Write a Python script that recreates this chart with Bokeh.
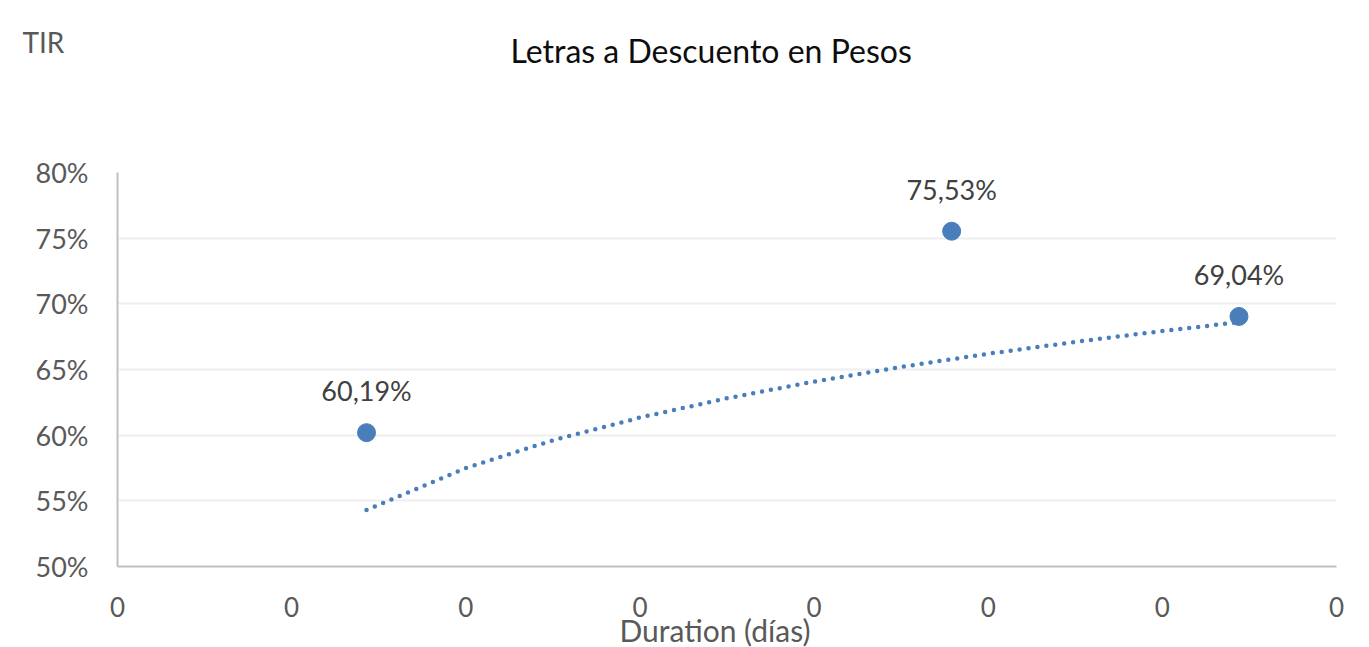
from bokeh.plotting import figure
from bokeh.models import FixedTicker, Range1d, ColumnDataSource, Title
from bokeh.core.properties import value
from bokeh.embed import file_html
from bokeh.resources import INLINE

# ---- data ----
x_ticks = [0, 1, 2, 3, 4, 5, 6, 7]
x_tick_labels = ["0", "0", "0", "0", "0", "0", "0", "0"]
y_ticks = [50, 55, 60, 65, 70, 75, 80]
y_tick_labels = ["50%", "55%", "60%", "65%", "70%", "75%", "80%"]

duration = [1.43, 4.79, 6.44]
tir = [60.19, 75.53, 69.04]
tir_labels = [f"{v:.2f}%".replace(".", ",") for v in tir]

trend_x = [1.43, 2.0, 2.5, 3.0, 3.5, 4.0, 4.5, 5.0, 5.5, 6.0, 6.44]
trend_y = [54.30, 57.49, 59.61, 61.34, 62.81, 64.08, 65.20, 66.20, 67.10, 67.93, 68.60]

title_text = "Letras a  Descuento en Pesos"
y_title = "TIR"
x_title = "Duration (días)"

FONT = "Lato"
BLUE = "#4a7ebb"

p = figure(width=1369, height=647, output_backend="svg", toolbar_location=None,
           x_range=Range1d(0, 7), y_range=Range1d(50, 80), title=None,
           min_border_left=117, min_border_right=33, min_border_top=172, min_border_bottom=81)
p.outline_line_color = None
p.background_fill_color = "white"
p.border_fill_color = "white"

p.xgrid.grid_line_color = None
p.ygrid.grid_line_color = "#eeeeee"
p.ygrid.grid_line_width = 2
p.ygrid.ticker = FixedTicker(ticks=y_ticks)

for ax in (p.xaxis[0], p.yaxis[0]):
    ax.axis_line_color = "#c0c0c0"
    ax.axis_line_width = 2
    ax.major_tick_line_color = None
    ax.minor_tick_line_color = None
    ax.major_label_text_font = FONT
    ax.major_label_text_color = "#595959"

p.xaxis.ticker = FixedTicker(ticks=x_ticks)
p.xaxis.major_label_overrides = {t: l for t, l in zip(x_ticks, x_tick_labels)}
p.xaxis.major_label_text_font_size = "26px"
p.xaxis.major_label_standoff = 24

p.yaxis.ticker = FixedTicker(ticks=y_ticks)
p.yaxis.major_label_overrides = {t: l for t, l in zip(y_ticks, y_tick_labels)}
p.yaxis.major_label_text_font_size = "27px"
p.yaxis.major_label_standoff = 23

src = ColumnDataSource(dict(x=duration, y=tir, t=tir_labels))

p.line(trend_x, trend_y, line_color=BLUE, line_width=4.5, line_dash="0 9", line_cap="round")
p.scatter("x", "y", source=src, size=18, fill_color=BLUE, line_color=BLUE)
p.text("x", "y", text="t", source=src, y_offset=-42, text_align="center", text_baseline="middle",
       text_font=value(FONT), text_font_size="27px", text_color="#404040")

# spacer between frame and chart title (blank title used only to reserve space)
p.add_layout(Title(text=" ", standoff=89, text_font=FONT, text_font_size="10px"), "above")
p.add_layout(Title(text=title_text, align="left", offset=393, standoff=0, text_font=FONT,
                   text_font_size="32px", text_font_style="normal", text_color="#0d0d0d"), "above")
p.add_layout(Title(text=y_title, align="left", offset=-95, standoff=-61, text_font=FONT,
                   text_font_size="28px", text_font_style="normal", text_color="#595959"), "above")
p.add_layout(Title(text=x_title, align="left", offset=502, standoff=-19, text_font=FONT,
                   text_font_size="30px", text_font_style="normal", text_color="#595959"), "below")

open("out.html", "w").write(file_html(p, INLINE))
